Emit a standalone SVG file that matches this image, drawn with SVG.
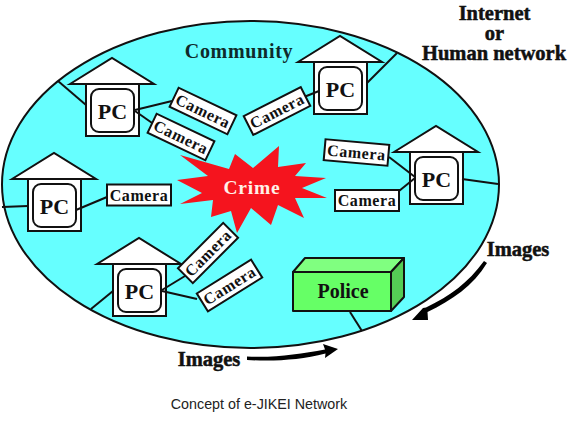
<svg xmlns="http://www.w3.org/2000/svg" width="576" height="432" viewBox="0 0 576 432">
<style>
text{font-family:"Liberation Serif","Times New Roman",serif;font-weight:bold;fill:#111;text-anchor:middle}
.body{fill:#fff;stroke:#111;stroke-width:2}
.inner{fill:#fff;stroke:#111;stroke-width:2}
.pc{font-size:22px}
.cam{font-size:16px;letter-spacing:.6px}
.l{font-size:20.500px}
.line{stroke:#111;stroke-width:2;fill:none}
</style>
<defs>
<g id="house">
<polygon class="body" points="-42,26 0,0 42,26"/>
<rect class="body" x="-26" y="26" width="53" height="52"/>
<rect class="inner" x="-21" y="31" width="43" height="43" rx="8"/>
<text class="pc" x="0.5" y="60.500">PC</text>
</g>
<rect id="camr" class="body" x="-32" y="-10.5" width="64" height="21"/>
</defs>
<rect width="576" height="432" fill="#fff"/>
<ellipse id="community" cx="250.5" cy="184.5" rx="248.5" ry="163.5" fill="#66ffff" stroke="#111" stroke-width="2"/>
<g id="pc1"><use href="#house" x="112" y="58"/></g>
<g id="pc2"><use href="#house" x="54" y="153"/></g>
<g id="pc3"><use href="#house" x="340" y="36"/></g>
<g id="pc4"><use href="#house" x="436" y="126"/></g>
<g id="pc5"><use href="#house" x="139" y="238"/></g>
<g id="connectors">
<path class="line" d="M58 81L86 105"/>
<path class="line" d="M2 207L28 206"/>
<path class="line" d="M367 83L397 53"/>
<path class="line" d="M462 179L498 184"/>
<path class="line" d="M91 309L113 291"/>
<path class="line" d="M350 312L362 331"/>
<path class="line" d="M135 110L172 101"/>
<path class="line" d="M135 111L155 125"/>
<path class="line" d="M76 210L107 197"/>
<path class="line" d="M304 97L319 91"/>
<path class="line" d="M389 157L415 177"/>
<path class="line" d="M399 191L415 178"/>
<path class="line" d="M162 290L185 276"/>
<path class="line" d="M162 291L197 299"/>
</g>
<g id="camera1" transform="translate(203,111) rotate(25.5)"><use href="#camr"/><text class="cam" y="5.500">Camera</text></g>
<g id="camera2" transform="translate(181,137) rotate(25.5)"><use href="#camr"/><text class="cam" y="5.500">Camera</text></g>
<g id="camera3" transform="translate(139,195)"><use href="#camr"/><text class="cam" y="5.500">Camera</text></g>
<g id="camera4" transform="translate(277,111) rotate(-27)"><use href="#camr"/><text class="cam" y="5.500">Camera</text></g>
<g id="camera5" transform="translate(356.500,152.500) rotate(5)"><use href="#camr"/><text class="cam" y="5.500">Camera</text></g>
<g id="camera6" transform="translate(367,200.500)"><use href="#camr"/><text class="cam" y="5.500">Camera</text></g>
<g id="camera7" transform="translate(208,253) rotate(-45)"><use href="#camr"/><text class="cam" y="5.500">Camera</text></g>
<g id="camera8" transform="translate(229.500,285.500) rotate(-32)"><use href="#camr"/><text class="cam" y="5.500">Camera</text></g>
<g id="crime">
<polygon fill="#f5141e" points="180,155 229,169 235,154 253,168 279,146 278,167 306,163 295,176 326,178 302,188 327,198 295,198 304,218 278,205 271,225 251,208 237,233 231,211 211,217 213,200 180,204 202,193 177,180 208,176"/>
<text x="252" y="194" font-size="19.500" letter-spacing=".8" style="fill:#fff0e8">Crime</text>
</g>
<g id="police" stroke="#111" stroke-width="2" stroke-linejoin="round">
<polygon points="293,272 305,258 404,258 391,272" fill="#80ff80"/>
<polygon points="391,272 404,258 404,297 391,311" fill="#55cc55"/>
<rect x="293" y="272" width="98" height="39" fill="#66ff66"/>
<text x="343" y="298" font-size="20" stroke="none">Police</text>
</g>
<g id="labels">
<text x="239" y="58" font-size="20" letter-spacing=".7" style="fill:#0f2a2a">Community</text>
<text class="l" x="494.500" y="20" stroke="#111" stroke-width=".5">Internet</text>
<text class="l" x="494.500" y="40" stroke="#111" stroke-width=".5">or</text>
<text class="l" x="494" y="60" stroke="#111" stroke-width=".5">Human network</text>
<text class="l" x="518" y="256" stroke="#111" stroke-width=".5">Images</text>
<text class="l" x="209" y="366" stroke="#111" stroke-width=".5">Images</text>
<text x="259" y="409" font-size="14.300" style="font-family:'Liberation Sans',Arial,sans-serif;font-weight:normal;fill:#222">Concept of e-JIKEI Network</text>
</g>
<g id="arrows" fill="#000">
<path d="M247 356.500C275 358 300 354 325 349.500L323 344L338 349L325 358L325.500 353.500C300 360 275 361.500 247 360Z"/>
<path d="M484 261C468 283 450 296 426 307.500L423 308L412 320L428 320L427.500 312C452 300 473 286 487 263Z"/>
</g>
</svg>
